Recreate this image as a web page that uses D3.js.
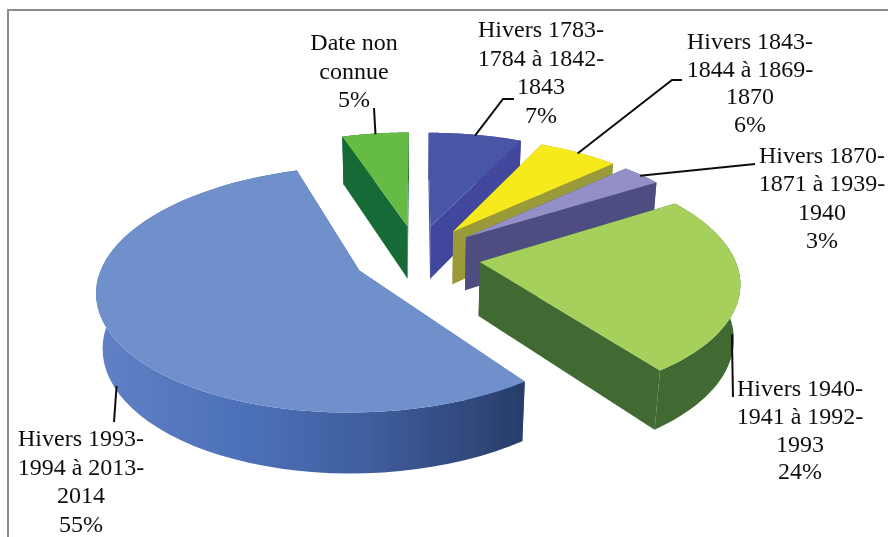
<!DOCTYPE html>
<html><head><meta charset="utf-8">
<script src="https://cdn.jsdelivr.net/npm/d3@7/dist/d3.min.js"></script>
<style>html,body{margin:0;padding:0;background:#fff}svg{display:block}text{font-family:"Liberation Serif",serif;font-size:24px;fill:#111}</style>
</head><body><svg id="c" width="888" height="537"></svg>
<script>
const categories=["Hivers 1783-1784 à 1842-1843","Hivers 1843-1844 à 1869-1870","Hivers 1870-1871 à 1939-1940","Hivers 1940-1941 à 1992-1993","Hivers 1993-1994 à 2013-2014","Date non connue"];
const values=[7,6,3,24,55,5];
const labelLines=[["Hivers 1783-","1784 à 1842-","1843"],["Hivers 1843-","1844 à 1869-","1870"],["Hivers 1870-","1871 à 1939-","1940"],["Hivers 1940-","1941 à 1992-","1993"],["Hivers 1993-","1994 à 2013-","2014"],["Date non","connue"]];
const topColors=["#4a57a6","#f6e91a","#9290c6","#a6d05b","#7090cb","#66bb45"];
const sideColors=["#3f469c","#9a9a38","#4d4d82","#3f6a33","url(#blueWall)","#146a36"];
const labelX=[541,750,822,800,81,354];
const labelY=[37,49,163,396,446,50];
const lineGap=[28.7,27.7,28.3,27.8,28.7,28.5];
const leaderDepth=[0,0,0,0.9,1,0];
const leaderVia=[[[503,99],[514,99]],[[672,80],[682,80]],[[755,164]],[[733,397]],[[114,422]],[[374,108]]];

const svg=d3.select("#c");
const C={x:417,y:256,A:254,B:116,D:55,q:0.15,t:0.02,ex:0.25,ey:0.27};
const slices=d3.pie().sort(null).value(d=>d)(values);
const mid=s=>(s.startAngle+s.endAngle)/2;
function project(s,a,r,z){
  const m=mid(s),U=C.ex*Math.sin(m)+r*Math.sin(a),V=C.ey*Math.cos(m)+r*Math.cos(a),w=1+C.q*V+C.t*z;
  return [C.x+C.A*U/w, C.y+(-C.B*V+C.D*z)/w];
}
const line=d3.line();
const arcPts=(s,z)=>d3.range(0,61).map(i=>project(s,s.startAngle+(s.endAngle-s.startAngle)*i/60,1,z));

const defs=svg.append("defs");
const grad=defs.append("linearGradient").attr("id","blueWall").attr("gradientUnits","userSpaceOnUse").attr("x1",100).attr("x2",527).attr("y1",0).attr("y2",0);
[[0,"#6080c4"],[0.35,"#4c70b8"],[0.62,"#3f5f9f"],[1,"#293c68"]].forEach(d=>grad.append("stop").attr("offset",d[0]).attr("stop-color",d[1]));
defs.append("filter").attr("id","soft").append("feGaussianBlur").attr("stdDeviation",0.4);
const root=svg.append("g").attr("filter","url(#soft)");

// frame
root.append("path").attr("d","M8,537V10H888").attr("fill","none").attr("stroke","#8c8c8c").attr("stroke-width",2);

const drawOrder=[5,4,0,1,2,3];
drawOrder.forEach(i=>{
  const s=slices[i],g=root.append("g");
  [s.startAngle,s.endAngle].forEach(a=>{
    const face=[project(s,a,0,0),project(s,a,1,0),project(s,a,1,1),project(s,a,0,1)];
    g.append("path").attr("d",line(face)+"Z").attr("fill",sideColors[i]===sideColors[4]?"#4c70b8":sideColors[i]);
  });
  const wall=arcPts(s,0).concat(arcPts(s,1).reverse());
  g.append("path").attr("d",line(wall)+"Z").attr("fill",sideColors[i]);
  const top=[project(s,0,0,0)].concat(arcPts(s,0));
  g.append("path").attr("d",line(top)+"Z").attr("fill",topColors[i]);
});

slices.forEach((s,i)=>{
  const start=project(s,mid(s),0.99,leaderDepth[i]);
  root.append("path").attr("d",line([start].concat(leaderVia[i]))).attr("fill","none").attr("stroke","#111").attr("stroke-width",2);
  const t=root.append("text").attr("text-anchor","middle");
  labelLines[i].concat([values[i]+"%"]).forEach((l,k)=>t.append("tspan").attr("x",labelX[i]).attr("y",labelY[i]+k*lineGap[i]).text(l));
});
</script></body></html>
